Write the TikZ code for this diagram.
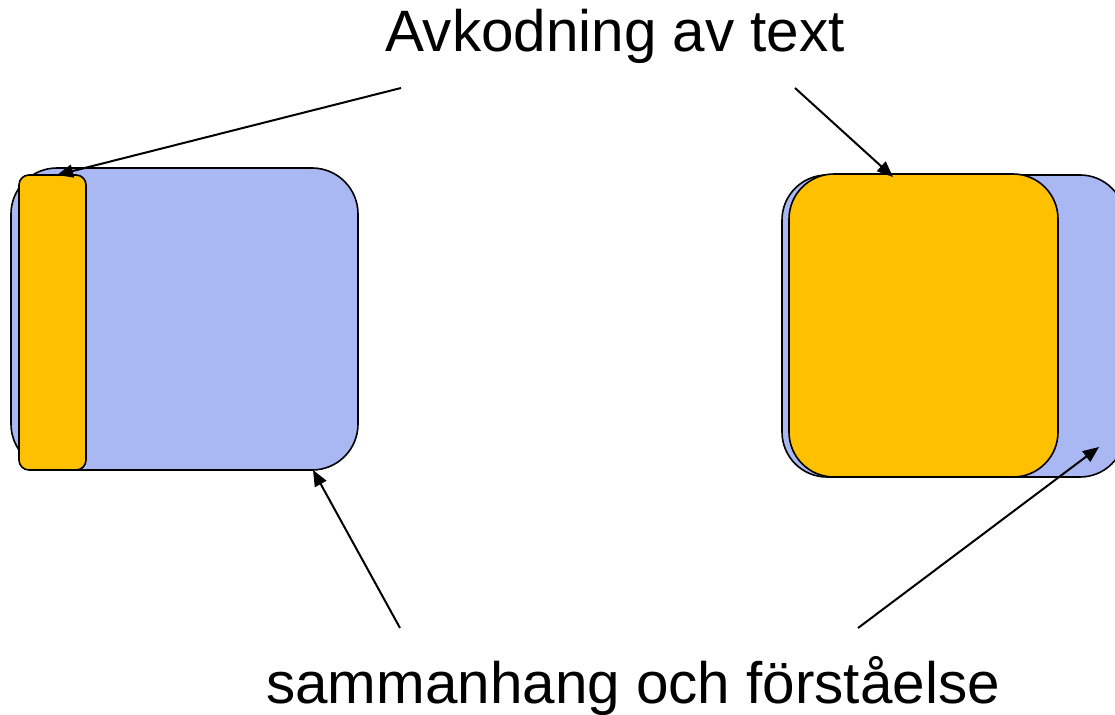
\documentclass[tikz,border=0pt]{standalone}
\usepackage{fontspec}
\setmainfont{Liberation Sans}
\usetikzlibrary{arrows.meta}
\definecolor{boxblue}{RGB}{169,184,242}
\definecolor{boxorange}{RGB}{255,192,0}
\tikzset{
  panel/.style={draw=black, line width=1.6pt, inner sep=0pt, outer sep=0pt},
  bluepanel/.style={panel, fill=boxblue, rounded corners=46pt},
  orangepanel/.style={panel, fill=boxorange},
  pointer/.style={draw=black, line width=2pt, -{Triangle[length=16pt,width=13pt]}},
  caption/.style={font=\fontsize{58.4}{70}\selectfont, inner sep=0pt, anchor=base}
}
\begin{document}
\begin{tikzpicture}[x=1pt,y=-1pt]
\useasboundingbox (0,0) rectangle (1115,714);
\node[bluepanel, minimum width=347pt, minimum height=302pt] (lblue) at (184.5,319) {};
\node[orangepanel, rounded corners=10pt, minimum width=67pt, minimum height=295pt] (lorange) at (52.5,322.5) {};
\node[bluepanel, rounded corners=45pt, minimum width=343pt, minimum height=302pt] (rblue) at (953.5,326) {};
\node[orangepanel, rounded corners=45pt, minimum width=269pt, minimum height=303pt] (rorange) at (923.5,325.5) {};
\node[caption] (top) at (615,52) {Avkodning av text};
\node[caption] (bottom) at (633,703) {sammanhang och förståelse};
\coordinate (s1) at (401,88);
\coordinate (s2) at (795,88);
\coordinate (s3) at (400,628);
\coordinate (s4) at (858,628);
\draw[pointer] (s1) -- ([xshift=4.5pt]lorange.north);
\draw[pointer] (s2) -- ([xshift=-30.5pt,yshift=-3pt]rorange.north);
\draw[pointer] (s3) -- ([xshift=128.5pt]lblue.south);
\draw[pointer] (s4) -- ([shift={(145.5,121)}]rblue.center);
\end{tikzpicture}
\end{document}
